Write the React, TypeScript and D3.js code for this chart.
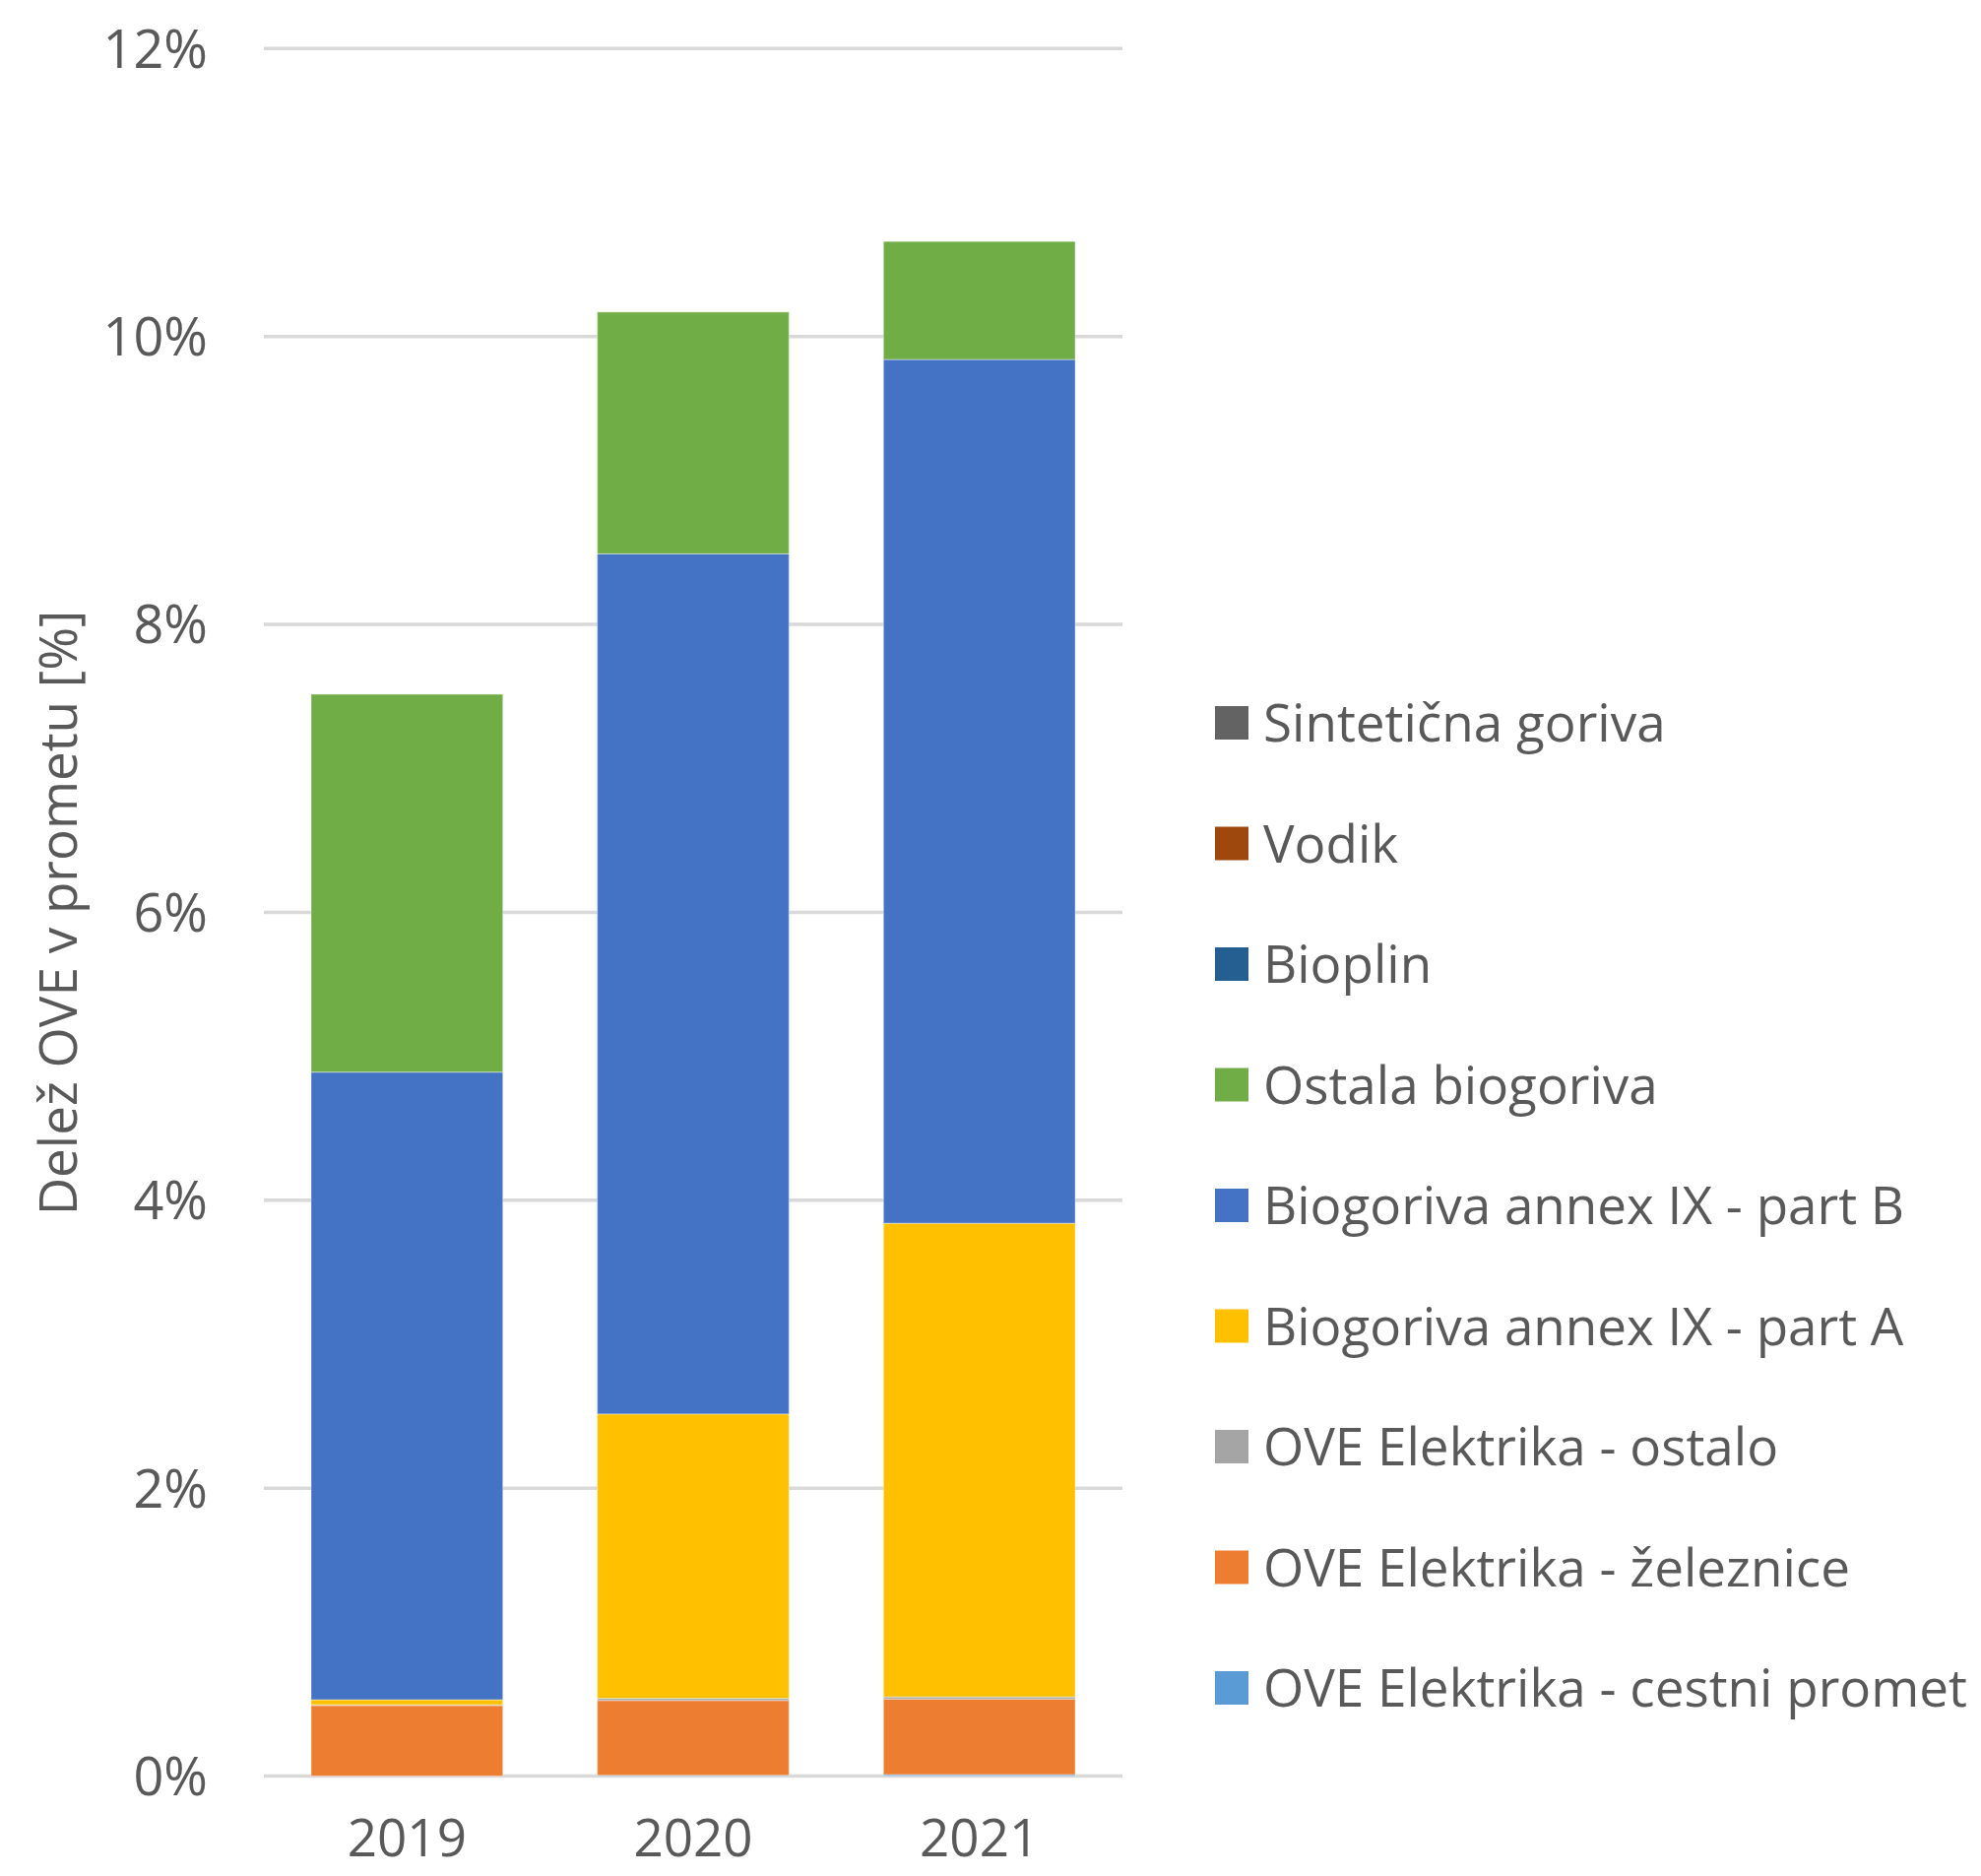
import React from "react";
import * as d3 from "d3";

const years = ["2019", "2020", "2021"];
const seriesNames = [
  "OVE Elektrika - cestni promet",
  "OVE Elektrika - železnice",
  "OVE Elektrika - ostalo",
  "Biogoriva annex IX - part A",
  "Biogoriva annex IX - part B",
  "Ostala biogoriva",
  "Bioplin",
  "Vodik",
  "Sintetična goriva",
];
const cestniPromet = [0.0, 0.005, 0.01];
const zeleznice = [0.49, 0.52, 0.525];
const ostalo = [0.005, 0.015, 0.015];
const partA = [0.035, 1.975, 3.29];
const partB = [4.36, 5.975, 6.0];
const ostalaBiogoriva = [2.625, 1.68, 0.82];
const bioplin = [0, 0, 0];
const vodik = [0, 0, 0];
const sinteticna = [0, 0, 0];
const yTicks = [0, 2, 4, 6, 8, 10, 12];
const colors = ["#5B9BD5", "#ED7D31", "#A5A5A5", "#FFC000", "#4472C4", "#70AD47", "#255E91", "#9E480E", "#636363"];

const seriesValues = [cestniPromet, zeleznice, ostalo, partA, partB, ostalaBiogoriva, bioplin, vodik, sinteticna];

const W = 2012;
const H = 1905;
const FONT = "'Open Sans', sans-serif";
const TEXT = "#595959";
const FS = 54;
const LFS = 53;

export default function App() {
  const rows = years.map((y, i) => {
    const r: any = { year: y };
    seriesNames.forEach((s, k) => (r[s] = seriesValues[k][i]));
    return r;
  });
  const stack = d3.stack<any>().keys(seriesNames)(rows);
  const x = d3.scaleBand<string>().domain(years).range([268, 1140]).paddingInner(0.33).paddingOuter(0.165);
  const y = d3.scaleLinear().domain([0, 12]).range([1803.5, 49.3]);

  const legendOrder = [...seriesNames].reverse();
  const legendY = d3.scalePoint<string>().domain(legendOrder).range([734, 1714]);

  return (
    <div style={{ position: "absolute", left: 0, top: 0 }}>
      <svg width={W} height={H} style={{ display: "block", background: "#fff" }} fontFamily={FONT}>
        {yTicks.map((t) => (
          <g key={t}>
            <line x1={268} x2={1140} y1={y(t)} y2={y(t)} stroke="#D9D9D9" strokeWidth={3.5} />
            <text x={211} y={y(t)} textAnchor="end" dy="0.36em" fontSize={FS} fill={TEXT}>
              {t}%
            </text>
          </g>
        ))}
        {stack.map((layer, k) =>
          layer.map((d, i) => {
            const h = y(d[0]) - y(d[1]);
            if (h <= 0) return null;
            return (
              <rect
                key={`${k}-${i}`}
                x={x(years[i])}
                width={x.bandwidth()}
                y={y(d[1])}
                height={h}
                fill={colors[k]}
                stroke="#ffffff"
                strokeOpacity={0.35}
                strokeWidth={1.2}
              />
            );
          })
        )}
        {years.map((yr) => (
          <text
            key={yr}
            x={(x(yr) as number) + x.bandwidth() / 2}
            y={1885}
            textAnchor="middle"
            fontSize={53}
            fill={TEXT}
          >
            {yr}
          </text>
        ))}
        <text transform="translate(78,927) rotate(-90)" textAnchor="middle" fontSize={53} fill={TEXT}>
          Delež OVE v prometu [%]
        </text>
        {legendOrder.map((s) => {
          const k = seriesNames.indexOf(s);
          const cy = legendY(s) as number;
          return (
            <g key={s}>
              <rect x={1234} y={cy - 17} width={34} height={34} fill={colors[k]} />
              <text x={1283} y={cy} dy="0.36em" fontSize={LFS} fill={TEXT}>
                {s}
              </text>
            </g>
          );
        })}
      </svg>
    </div>
  );
}
